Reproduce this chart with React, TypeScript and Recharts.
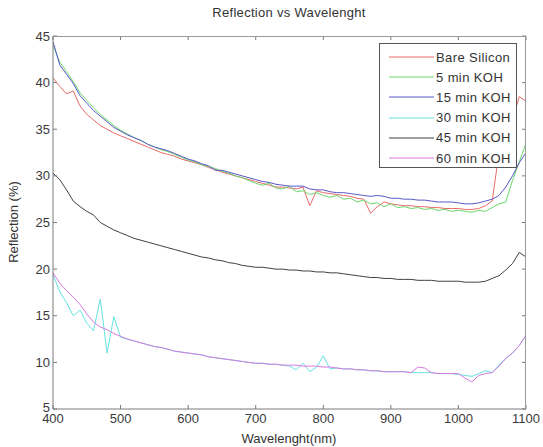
import { LineChart, Line, XAxis, YAxis, Legend } from "recharts";

const wavelengths = [
  400, 410, 420, 430, 440, 450, 460, 470, 480, 490,
  500, 510, 520, 530, 540, 550, 560, 570, 580, 590,
  600, 610, 620, 630, 640, 650, 660, 670, 680, 690,
  700, 710, 720, 730, 740, 750, 760, 770, 780, 790,
  800, 810, 820, 830, 840, 850, 860, 870, 880, 890,
  900, 910, 920, 930, 940, 950, 960, 970, 980, 990,
  1000, 1010, 1020, 1030, 1040, 1050, 1060, 1070, 1080, 1090,
  1100,
];

const bareSilicon = [
  40.5, 39.6, 38.8, 39.1, 37.5, 36.6, 36.0, 35.4, 35.0, 34.6,
  34.3, 34.0, 33.7, 33.4, 33.1, 32.8, 32.5, 32.3, 32.1, 31.8,
  31.6, 31.4, 31.2, 30.9, 30.7, 30.4, 30.2, 30.0, 29.8, 29.6,
  29.4, 29.2, 29.0, 28.8, 28.8, 28.7, 28.6, 28.8, 26.8, 28.4,
  28.2, 28.1, 28.0, 27.9, 27.8, 27.6, 27.5, 26.0, 26.7, 27.2,
  27.0, 26.9, 26.8, 26.8, 26.7, 26.7, 26.6, 26.6, 26.5, 26.5,
  26.5, 26.4, 26.4, 26.5, 26.8, 27.3, 32.5, 34.5, 36.0, 38.5,
  38.0,
];

const koh5 = [
  44.0, 42.2, 41.2, 40.1, 38.9, 38.1, 37.3, 36.6, 36.0, 35.4,
  34.9, 34.5, 34.1, 33.8, 33.4, 33.1, 32.8, 32.6, 32.3, 32.0,
  31.7, 31.5, 31.2, 31.0, 30.8, 30.5, 30.3, 30.0, 29.8, 29.5,
  29.2, 29.0, 29.2, 28.7, 28.6, 28.9, 28.3, 28.4, 28.0, 28.2,
  27.9, 27.7, 27.9, 27.5, 27.6, 27.2, 27.4, 27.0, 27.1, 26.7,
  27.0, 26.6, 26.7, 26.5, 26.6, 26.4, 26.5, 26.3, 26.4, 26.2,
  26.3, 26.2, 26.1, 26.3, 26.2, 26.6, 27.0, 27.2, 29.5, 31.5,
  33.5,
];

const koh15 = [
  44.4, 41.9, 40.9, 39.9, 38.6, 37.8, 37.0, 36.4, 35.8, 35.2,
  34.8, 34.4, 34.1, 33.8, 33.4, 33.1, 32.9, 32.7, 32.4, 32.1,
  31.8, 31.6, 31.3, 31.1, 30.6, 30.6, 30.4, 30.2, 30.0, 29.8,
  29.6, 29.4, 29.3, 29.1, 29.0, 28.9, 28.9, 28.9, 28.6, 28.5,
  28.5, 28.3, 28.2, 28.2, 28.1, 28.0, 27.9, 27.8, 27.9, 27.8,
  27.6, 27.6, 27.5, 27.5, 27.4, 27.4, 27.3, 27.2, 27.2, 27.2,
  27.1, 27.0, 27.0, 27.1, 27.3, 27.5, 27.9, 28.8, 30.0, 31.4,
  32.5,
];

const koh30 = [
  19.4, 17.6, 16.4, 15.0, 15.6, 14.2, 13.4, 16.8, 11.0, 14.9,
  12.7, 12.5, 12.3, 12.1, 11.9, 11.7, 11.6, 11.4, 11.2, 11.1,
  11.0, 10.9, 10.8, 10.6, 10.5, 10.4, 10.3, 10.2, 10.1, 10.0,
  9.9, 9.9, 9.8, 9.8, 9.7, 9.6, 9.2, 9.9, 9.0, 9.5,
  10.7, 9.3, 9.4, 9.3, 9.3, 9.2, 9.2, 9.1, 9.1, 9.0,
  9.0, 9.0, 9.0, 8.9, 8.9, 8.9, 8.9, 8.8, 8.8, 8.8,
  8.7, 8.6, 8.5, 8.8, 9.1, 8.9, 9.7, 10.4, 11.0, 11.8,
  12.9,
];

const koh45 = [
  30.3, 29.6, 28.5, 27.3, 26.7, 26.2, 25.8, 25.0, 24.6, 24.2,
  23.9, 23.6, 23.3, 23.1, 22.9, 22.7, 22.5, 22.3, 22.1, 21.9,
  21.7, 21.5, 21.3, 21.2, 21.0, 20.9, 20.7, 20.6, 20.4, 20.3,
  20.2, 20.2, 20.1, 20.0, 20.0, 19.9, 19.9, 19.8, 19.8, 19.7,
  19.7, 19.6, 19.6, 19.5, 19.4, 19.3, 19.2, 19.1, 19.1, 19.0,
  19.0, 18.9, 18.9, 18.9, 18.8, 18.8, 18.8, 18.7, 18.7, 18.7,
  18.7, 18.6, 18.6, 18.6, 18.7, 19.0, 19.3, 19.9, 20.6, 21.8,
  21.3,
];

const koh60 = [
  19.6, 18.5, 17.7, 17.0, 16.2, 15.2, 14.3, 13.8, 13.5, 13.1,
  12.8, 12.5, 12.3, 12.1, 11.9, 11.7, 11.6, 11.4, 11.2, 11.1,
  11.0, 10.9, 10.8, 10.6, 10.5, 10.4, 10.3, 10.2, 10.1, 10.0,
  9.9, 9.9, 9.8, 9.8, 9.7, 9.7, 9.7, 9.6, 9.6, 9.6,
  9.5, 9.5, 9.4, 9.3, 9.3, 9.2, 9.2, 9.1, 9.1, 9.0,
  9.0, 9.0, 9.0, 8.9, 9.5, 9.4, 8.9, 8.8, 8.8, 8.8,
  8.8, 8.3, 7.9, 8.6, 8.8, 8.9, 9.6, 10.4, 11.0, 11.8,
  12.9,
];

const xTicks = [400, 500, 600, 700, 800, 900, 1000, 1100];
const yTicks = [5, 10, 15, 20, 25, 30, 35, 40, 45];
const X_MIN = 400;
const X_MAX = 1100;
const Y_MIN = 5;
const Y_MAX = 45;

const series = [
  { key: "bare", name: "Bare Silicon", color: "#e86a6a", values: bareSilicon },
  { key: "k5", name: "5 min KOH", color: "#6ad86a", values: koh5 },
  { key: "k15", name: "15 min KOH", color: "#5858c8", values: koh15 },
  { key: "k30", name: "30 min KOH", color: "#66e2e2", values: koh30 },
  { key: "k45", name: "45 min KOH", color: "#404040", values: koh45 },
  { key: "k60", name: "60 min KOH", color: "#d878e0", values: koh60 },
];

const data = wavelengths.map((wl, i) => {
  const row: Record<string, number> = { wl };
  series.forEach((s) => {
    row[s.key] = s.values[i];
  });
  return row;
});

// chart geometry
const W = 543;
const H = 447;
const M_TOP = 36;
const M_RIGHT = 17;
const X_AXIS_H = 38;
const Y_AXIS_W = 53;
const PLOT_LEFT = Y_AXIS_W;
const PLOT_RIGHT = W - M_RIGHT;
const PLOT_TOP = M_TOP;
const PLOT_BOTTOM = H - X_AXIS_H;
const TICK = 4;

const FONT = "'Liberation Sans', Arial, sans-serif";
const AXIS = "#7a7a7a";
const TEXT = "#3a3a3a";

// x tick label + matching inward tick on the top edge
function XTick(props: any) {
  const { x, y, payload } = props;
  return (
    <g>
      <text x={x} y={y} dy="0.71em" textAnchor="middle" fontSize={13} fill={TEXT} fontFamily={FONT}>
        {payload.value}
      </text>
      <path d={`M${x},${PLOT_TOP}V${PLOT_TOP + TICK}`} stroke={AXIS} strokeWidth={1} fill="none" />
    </g>
  );
}

// y tick label + matching inward tick on the right edge
function YTick(props: any) {
  const { x, y, payload } = props;
  return (
    <g>
      <text
        x={x}
        y={payload.value === Y_MIN ? y - 2 : y}
        dy="0.355em"
        textAnchor="end"
        fontSize={13}
        fill={TEXT}
        fontFamily={FONT}
      >
        {payload.value}
      </text>
      <path d={`M${PLOT_RIGHT - TICK},${y}H${PLOT_RIGHT}`} stroke={AXIS} strokeWidth={1} fill="none" />
    </g>
  );
}

function LegendBox() {
  return (
    <div
      style={{
        width: 138,
        height: 125,
        background: "#fff",
        border: "1px solid #555",
        fontFamily: FONT,
        fontSize: 13,
        color: "#333",
        boxSizing: "border-box",
        paddingTop: 3,
      }}
    >
      {series.map((s) => (
        <div key={s.key} style={{ display: "flex", alignItems: "center", height: 20.2 }}>
          <svg width={56} height={10}>
            <line x1={9} x2={54} y1={5} y2={5} stroke={s.color} strokeWidth={1} />
          </svg>
          <span style={{ letterSpacing: 0.4, whiteSpace: "nowrap" }}>{s.name}</span>
        </div>
      ))}
    </div>
  );
}

export default function App() {
  return (
    <div style={{ position: "absolute", left: 0, top: 0, width: W, height: H, background: "#fff" }}>
      <div
        style={{
          position: "absolute",
          top: 5,
          left: 0,
          width: 578,
          textAlign: "center",
          fontFamily: FONT,
          fontSize: 13,
          color: "#333",
          letterSpacing: 0.3,
        }}
      >
        Reflection vs Wavelenght
      </div>
      <div
        style={{
          position: "absolute",
          left: 13,
          top: 222,
          transform: "translate(-50%, -50%) rotate(-90deg)",
          fontFamily: FONT,
          fontSize: 13,
          color: "#333",
          whiteSpace: "nowrap",
        }}
      >
        Reflection (%)
      </div>
      <div
        style={{
          position: "absolute",
          top: 431,
          left: 0,
          width: 578,
          textAlign: "center",
          fontFamily: FONT,
          fontSize: 13,
          color: "#333",
        }}
      >
        Wavelenght(nm)
      </div>
      <LineChart
        width={W}
        height={H}
        data={data}
        margin={{ top: M_TOP, right: M_RIGHT, left: 0, bottom: 0 }}
        style={{ position: "absolute", left: 0, top: 0 }}
      >
        <XAxis
          dataKey="wl"
          type="number"
          domain={[X_MIN, X_MAX]}
          ticks={xTicks}
          allowDataOverflow
          height={X_AXIS_H}
          stroke={AXIS}
          tickSize={-TICK}
          tickMargin={9}
          tick={<XTick />}
          interval={0}
        />
        <YAxis
          type="number"
          domain={[Y_MIN, Y_MAX]}
          ticks={yTicks}
          allowDataOverflow
          width={Y_AXIS_W}
          stroke={AXIS}
          tickSize={-TICK}
          tickMargin={7}
          tick={<YTick />}
          interval={0}
        />
        {series.map((s) => (
          <Line
            key={s.key}
            dataKey={s.key}
            name={s.name}
            stroke={s.color}
            strokeWidth={1}
            dot={false}
            activeDot={false}
            isAnimationActive={false}
          />
        ))}
        <Legend
          layout="vertical"
          align="center"
          verticalAlign="middle"
          wrapperStyle={{ top: 43, left: 379, width: 140 }}
          content={() => <LegendBox />}
        />
      </LineChart>
      {/* top and right edges of the axes box */}
      <div
        style={{
          position: "absolute",
          left: PLOT_LEFT,
          top: PLOT_TOP,
          width: PLOT_RIGHT - PLOT_LEFT,
          height: PLOT_BOTTOM - PLOT_TOP,
          borderTop: "1px solid #9a9a9a",
          borderRight: "1px solid #9a9a9a",
          boxSizing: "border-box",
          pointerEvents: "none",
        }}
      />
    </div>
  );
}
